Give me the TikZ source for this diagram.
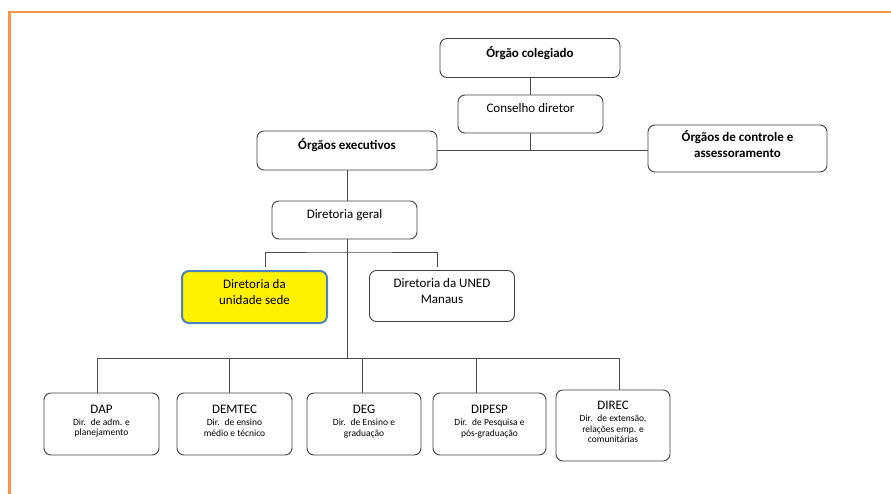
\documentclass[tikz,border=0pt]{standalone}
\usepackage{fontspec}
\setmainfont{Carlito}
\usetikzlibrary{calc}
\definecolor{frameorange}{RGB}{247,150,70}
\definecolor{sedeblue}{RGB}{79,129,189}
\tikzset{
  frame/.style={draw=frameorange, line width=2.5pt},
  orgbox/.style={draw=black!75, line width=0.9pt, rounded corners=7pt, align=center, inner sep=2pt, text depth=12pt, font=\fontsize{13}{15.5}\selectfont},
  boldbox/.style={orgbox, font=\fontsize{13}{16}\selectfont\bfseries},
  subbox/.style={orgbox, text depth=7pt, minimum height=62pt, font=\fontsize{9.5}{10.8}\selectfont},
  link/.style={draw=black!70, line width=1pt}
}
\newcommand{\boxtitle}[1]{{\fontsize{13}{15}\selectfont #1}\\[1pt]}

\begin{document}
\begin{tikzpicture}[x=1pt,y=-1pt]
    \useasboundingbox (0,0) rectangle (891,493);
    % frame
    \draw[frame] (895,12) -- (9.5,12) -- (9.5,497);
    % top
    \node[boldbox, minimum width=180pt, minimum height=39pt] (colegiado) at (530,58) {Órgão colegiado};
    \node[orgbox, minimum width=145pt, minimum height=38pt] (conselho) at (530.5,114) {Conselho diretor};
    \node[boldbox, minimum width=180pt, minimum height=39pt] (executivos) at (347,150.5) {Órgãos executivos};
    \node[boldbox, minimum width=179pt, minimum height=47pt, text depth=8pt] (controle) at (737.5,148.5) {Órgãos de controle e\\assessoramento};
    % middle
    \node[orgbox, minimum width=145pt, minimum height=38pt] (geral) at (344.5,220) {Diretoria geral};
    \node[orgbox, draw=sedeblue, fill=yellow, line width=2pt, text depth=10pt, minimum width=145pt, minimum height=52pt] (sede) at (254.5,297) {Diretoria da\\unidade sede};
    \node[orgbox, text depth=10pt, minimum width=145pt, minimum height=51pt] (uned) at (442,296) {Diretoria da UNED\\Manaus};
    % bottom
    \node[subbox, minimum width=115pt] (dap) at (101.5,424) {\boxtitle{DAP}Dir.~ de adm. e\\planejamento};
    \node[subbox, minimum width=115pt] (demtec) at (234.5,424) {\boxtitle{DEMTEC}Dir.~ de ensino\\médio e técnico};
    \node[subbox, minimum width=114pt] (deg) at (364,424) {\boxtitle{DEG}Dir.~ de Ensino e\\graduação};
    \node[subbox, minimum width=113pt] (dipesp) at (489.5,424) {\boxtitle{DIPESP}Dir.~ de Pesquisa e\\pós-graduação};
    \node[subbox, minimum width=114pt, minimum height=71pt] (direc) at (613,425.5) {\boxtitle{DIREC}Dir.~ de extensão,\\relações emp. e\\comunitárias};
    % branch points
    \coordinate (t1) at (347,252);
    \coordinate (t2) at (347,358);
    \coordinate (s1) at (265,267);
    \coordinate (s2) at (437,267);
    \coordinate (d1) at (97,358);
    \coordinate (d2) at (229,358);
    \coordinate (d3) at (362,358);
    \coordinate (d4) at (476,358);
    \coordinate (d5) at (619,358);
    % links
    \draw[link] (colegiado.south) -- (colegiado.south |- conselho.north);
    \draw[link] (executivos.east) -- (executivos.east -| controle.west);
    \draw[link] (conselho.south) -- (conselho.south |- executivos.east);
    \draw[link] (executivos.south) -- (executivos.south |- geral.north);
    \draw[link] (geral.south -| t1) -- (t2);
    \draw[link] (s1) |- (t1) -| (s2);
    \draw[link] (d1) -- (d5);
    \draw[link] (d1) -- (d1 |- dap.north);
    \draw[link] (d2) -- (d2 |- demtec.north);
    \draw[link] (d3) -- (d3 |- deg.north);
    \draw[link] (d4) -- (d4 |- dipesp.north);
    \draw[link] (d5) -- (d5 |- direc.north);
\end{tikzpicture}
\end{document}
